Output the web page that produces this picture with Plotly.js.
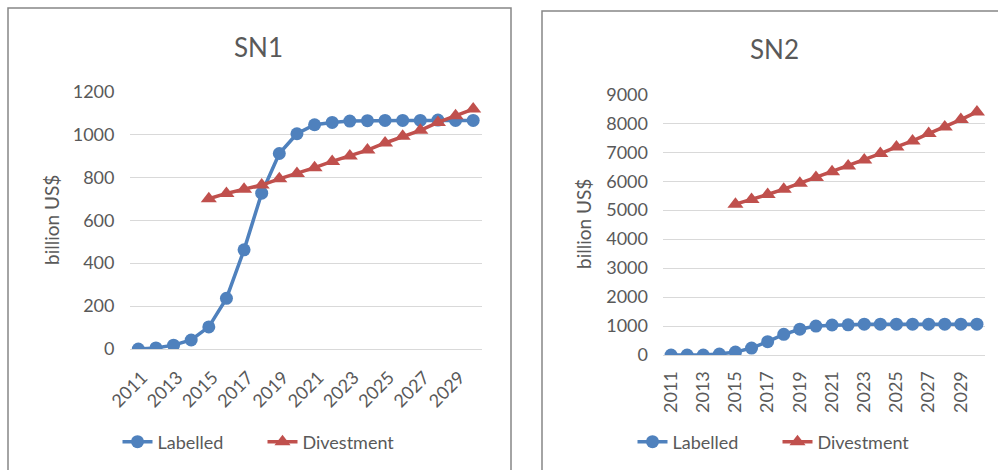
<!DOCTYPE html>
<html>
<head>
<meta charset="utf-8">
<script src="https://cdn.plot.ly/plotly-3.0.1.min.js"></script>
<style>
  html, body { margin: 0; padding: 0; background: #ffffff; }
  #chart { width: 998px; height: 470px; }
</style>
</head>
<body>
<div id="chart"></div>
<script>
// ---- data (billion US$) ----
const years = ['2011','2012','2013','2014','2015','2016','2017','2018','2019','2020',
               '2021','2022','2023','2024','2025','2026','2027','2028','2029','2030'];
const tickYears = ['2011','2013','2015','2017','2019','2021','2023','2025','2027','2029'];

const sn1Labelled   = [0, 5, 18, 42, 103, 236, 462, 726, 911, 1003,
                       1045, 1056, 1062, 1064, 1065, 1065, 1065, 1067, 1065, 1065];
const sn1Divestment = [null, null, null, null, 700, 725, 745, 764, 793, 818,
                       845, 874, 900, 927, 960, 991, 1019, 1056, 1087, 1118];

const sn2Labelled   = [0, 0, 0, 35, 100, 240, 460, 715, 890, 1000,
                       1035, 1040, 1065, 1065, 1065, 1065, 1065, 1065, 1065, 1065];
const sn2Divestment = [null, null, null, null, 5207, 5368, 5540, 5724, 5931, 6126,
                       6322, 6529, 6736, 6954, 7184, 7391, 7644, 7874, 8126, 8391];

const panelTitles = ['SN1', 'SN2'];
const yTitle = 'billion US$';
const seriesNames = ['Labelled', 'Divestment'];

// ---- styles ----
const BLUE = '#4f81bd';
const RED = '#c0504d';
const TXT = '#595959';
const FONT = 'Lato, "Open Sans", sans-serif';
const W = 998, H = 470;
const px = v => v / W;
const py = v => (H - v) / H;

function lineTrace(y, name, color, symbol, xa, ya, legend, show) {
  return {
    x: years, y: y, name: name, type: 'scatter', mode: 'lines+markers',
    xaxis: xa, yaxis: ya, legend: legend, showlegend: show,
    connectgaps: false,
    line: { color: color, width: 3.5 },
    marker: { color: color, size: symbol === 'circle' ? 13 : 14, symbol: symbol },
    hoverinfo: 'x+y+name'
  };
}

const data = [
  lineTrace(sn1Labelled, seriesNames[0], BLUE, 'circle', 'x', 'y', 'legend', true),
  lineTrace(sn1Divestment, seriesNames[1], RED, 'triangle-up', 'x', 'y', 'legend', true),
  lineTrace(sn2Labelled, seriesNames[0], BLUE, 'circle', 'x2', 'y2', 'legend2', true),
  lineTrace(sn2Divestment, seriesNames[1], RED, 'triangle-up', 'x2', 'y2', 'legend2', true)
];

const tickFont = { family: FONT, size: 18, color: TXT };

function xAxis(domain, angle, anchor, standoff, shift) {
  return {
    domain: domain, anchor: anchor, type: 'category',
    range: [-0.5, years.length - 0.5],
    tickmode: 'array', tickvals: tickYears, ticktext: tickYears,
    tickangle: angle, tickfont: tickFont,
    ticklabelstandoff: standoff, ticklabelshift: shift,
    showgrid: false, showline: true, linecolor: '#d9d9d9', linewidth: 1,
    ticks: '', zeroline: false, fixedrange: true
  };
}
function yAxis(domain, range, dtick, anchor) {
  return {
    domain: domain, anchor: anchor, range: range, dtick: dtick, tick0: 0,
    tickfont: tickFont, showgrid: true, gridcolor: '#d9d9d9', gridwidth: 1,
    zeroline: false, showline: false, ticks: '', ticklabelstandoff: 14,
    fixedrange: true
  };
}

const legendFont = { family: FONT, size: 18, color: TXT };
function legendAt(cx) {
  return {
    orientation: 'h', x: px(cx), xanchor: 'center', y: py(442), yanchor: 'middle',
    font: legendFont, bgcolor: 'rgba(0,0,0,0)',
    entrywidth: 100, entrywidthmode: 'pixels'
  };
}

const layout = {
  width: W, height: H,
  margin: { l: 0, r: 0, t: 0, b: 0 },
  paper_bgcolor: '#ffffff', plot_bgcolor: '#ffffff',
  font: { family: FONT, color: TXT },
  xaxis: xAxis([px(129.5), px(482)], -45, 'y', 10, 4),
  yaxis: yAxis([py(349), py(91.5)], [0, 1200], 200, 'x'),
  xaxis2: xAxis([px(663), px(985)], -90, 'y2', 8, 0),
  yaxis2: yAxis([py(355), py(94.3)], [0, 9000], 1000, 'x2'),
  legend: legendAt(262.5),
  legend2: legendAt(777.5),
  annotations: [
    { text: panelTitles[0], xref: 'paper', yref: 'paper', x: px(258), y: py(47),
      xanchor: 'center', yanchor: 'middle', showarrow: false,
      font: { family: FONT, size: 26, color: TXT } },
    { text: panelTitles[1], xref: 'paper', yref: 'paper', x: px(774), y: py(49),
      xanchor: 'center', yanchor: 'middle', showarrow: false,
      font: { family: FONT, size: 26, color: TXT } },
    { text: yTitle, xref: 'paper', yref: 'paper', x: px(51), y: py(220),
      xanchor: 'center', yanchor: 'middle', showarrow: false, textangle: -90,
      font: { family: FONT, size: 19, color: TXT } },
    { text: yTitle, xref: 'paper', yref: 'paper', x: px(583), y: py(224),
      xanchor: 'center', yanchor: 'middle', showarrow: false, textangle: -90,
      font: { family: FONT, size: 19, color: TXT } }
  ],
  shapes: [
    { type: 'rect', xref: 'paper', yref: 'paper', x0: px(8), x1: px(511), y0: -0.05, y1: py(8),
      line: { color: '#868686', width: 1.5 }, fillcolor: 'rgba(0,0,0,0)', layer: 'below' },
    { type: 'rect', xref: 'paper', yref: 'paper', x0: px(542), x1: 1.05, y0: -0.05, y1: py(11),
      line: { color: '#868686', width: 1.5 }, fillcolor: 'rgba(0,0,0,0)', layer: 'below' }
  ]
};

Plotly.newPlot('chart', data, layout, { displayModeBar: false, staticPlot: true });
</script>
</body>
</html>
